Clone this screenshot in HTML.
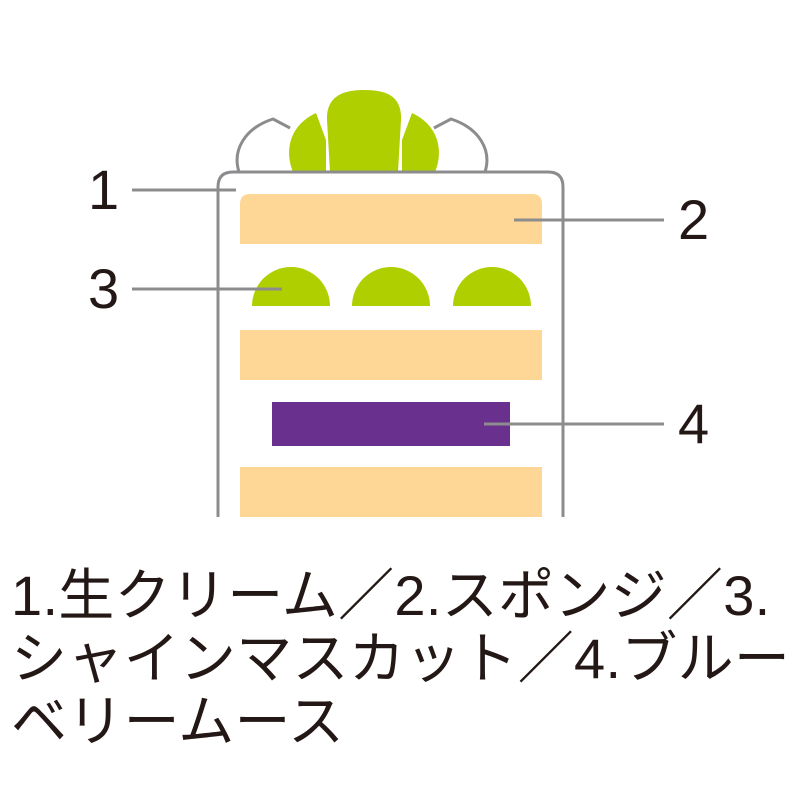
<!DOCTYPE html>
<html><head><meta charset="utf-8"><style>
html,body{margin:0;padding:0;background:#fff;width:800px;height:800px;overflow:hidden}
.t{position:absolute;left:11px;top:564px;width:800px;font-family:"Liberation Sans","Noto Sans CJK JP",sans-serif;font-size:56px;line-height:63px;color:#231815;white-space:nowrap;letter-spacing:0.3px}
</style></head><body>
<svg width="800" height="560" style="position:absolute;left:0;top:0" xmlns="http://www.w3.org/2000/svg">
<g fill="none" stroke="#8c8c8f" stroke-width="3">
<path d="M239 172 C232 150 245 128 273 119 L290 128"/>
<path d="M485 172 C492 150 479 128 451 119 L434 128"/>
</g>
<g fill="#b0cf00">
<path d="M293 172 C284 150 290 125 316 113 L326 140 L326 172 Z"/>
<path d="M435 172 C444 150 438 125 412 113 L402 140 L402 172 Z"/>
<path d="M330 172 L327 120 C326 95 345 90 364 90 C385 90 402 95 401 120 L398 172 Z"/>
</g>
<path d="M218 517 V187 Q218 172 233 172 H548 Q563 172 563 187 V517" fill="none" stroke="#8c8c8f" stroke-width="3"/>
<g fill="#fed797">
<path d="M240 244 V204 Q240 194 250 194 H532 Q542 194 542 204 V244 Z"/>
<rect x="240" y="330" width="302" height="50"/>
<rect x="240" y="467" width="302" height="50"/>
</g>
<g fill="#b0cf00">
<path d="M252 306 A39 39 0 0 1 330 306 Z"/>
<path d="M352 306 A39 39 0 0 1 430 306 Z"/>
<path d="M453 306 A39 39 0 0 1 531 306 Z"/>
</g>
<rect x="272" y="402" width="238" height="44" fill="#6a308d"/>
<g stroke="#8c8c8f" stroke-width="3">
<line x1="132" y1="190" x2="236" y2="190"/>
<line x1="132" y1="289" x2="282" y2="289"/>
<line x1="514" y1="220" x2="664" y2="220"/>
<line x1="484" y1="424" x2="664" y2="424"/>
</g>
<g font-family="Liberation Sans, sans-serif" font-size="56" fill="#231815">
<text x="88" y="209">1</text>
<text x="88" y="308">3</text>
<text x="678" y="239">2</text>
<text x="678" y="443">4</text>
</g>
</svg>
<div class="t">1.生クリーム／2.スポンジ／3.<br>シャインマスカット／4.ブルー<br>ベリームース</div>
</body></html>
